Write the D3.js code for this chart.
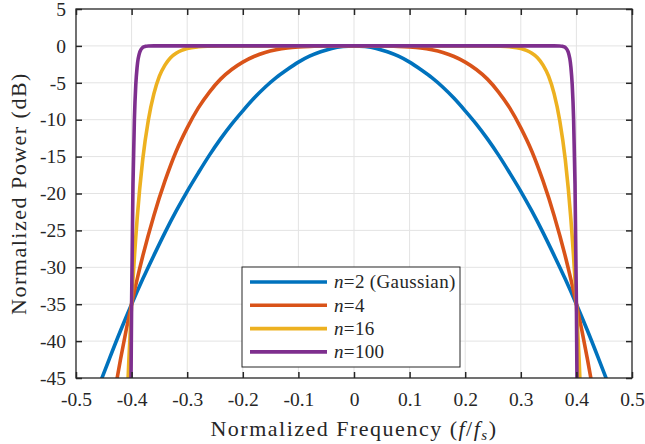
<!DOCTYPE html>
<html>
<head>
<meta charset="utf-8">
<script src="https://cdn.jsdelivr.net/npm/d3@7"></script>
<style>
  html, body { margin: 0; padding: 0; background: #ffffff; }
  text { font-family: "Liberation Serif", "Times New Roman", serif; fill: #262626; }
</style>
</head>
<body>
<div id="chart-container"></div>
<script>
const width = 645;
const height = 444;
const marginTop = 9;
const marginRight = 13;
const marginBottom = 66;
const marginLeft = 76;

// series values (normalized frequency, dB)
const freq2 = [-0.46, -0.44, -0.42, -0.40, -0.38, -0.36, -0.34, -0.32, -0.30, -0.28, -0.26, -0.24, -0.22, -0.20, -0.18, -0.16, -0.14, -0.12, -0.10, -0.08, -0.06, -0.04, -0.02, 0,
               0.02, 0.04, 0.06, 0.08, 0.10, 0.12, 0.14, 0.16, 0.18, 0.20, 0.22, 0.24, 0.26, 0.28, 0.30, 0.32, 0.34, 0.36, 0.38, 0.40, 0.42, 0.44, 0.46];
const pow2 = [-46.3, -42.4, -38.6, -35.0, -31.6, -28.4, -25.3, -22.4, -19.7, -17.2, -14.8, -12.6, -10.6, -8.8, -7.1, -5.6, -4.3, -3.2, -2.2, -1.4, -0.8, -0.35, -0.09, 0,
              -0.09, -0.35, -0.8, -1.4, -2.2, -3.2, -4.3, -5.6, -7.1, -8.8, -10.6, -12.6, -14.8, -17.2, -19.7, -22.4, -25.3, -28.4, -31.6, -35.0, -38.6, -42.4, -46.3];

const freq4 = [-0.43, -0.42, -0.41, -0.40, -0.39, -0.38, -0.36, -0.34, -0.32, -0.30, -0.28, -0.26, -0.24, -0.22, -0.20, -0.18, -0.16, -0.14, -0.12, -0.10, -0.08, -0.06, -0.04, 0,
               0.04, 0.06, 0.08, 0.10, 0.12, 0.14, 0.16, 0.18, 0.20, 0.22, 0.24, 0.26, 0.28, 0.30, 0.32, 0.34, 0.36, 0.38, 0.39, 0.40, 0.41, 0.42, 0.43];
const pow4 = [-46.7, -42.5, -38.6, -35.0, -31.6, -28.5, -23.0, -18.3, -14.3, -11.1, -8.4, -6.25, -4.5, -3.2, -2.2, -1.44, -0.9, -0.53, -0.28, -0.14, -0.06, -0.02, 0, 0,
              0, -0.02, -0.06, -0.14, -0.28, -0.53, -0.9, -1.44, -2.2, -3.2, -4.5, -6.25, -8.4, -11.1, -14.3, -18.3, -23.0, -28.5, -31.6, -35.0, -38.6, -42.5, -46.7];

const freq16 = [-0.41, -0.405, -0.40, -0.39, -0.38, -0.37, -0.36, -0.35, -0.34, -0.33, -0.32, -0.31, -0.30, -0.28, -0.26, -0.24, -0.20, 0,
                0.20, 0.24, 0.26, 0.28, 0.30, 0.31, 0.32, 0.33, 0.34, 0.35, 0.36, 0.37, 0.38, 0.39, 0.40, 0.405, 0.41];
const pow16 = [-52, -42.7, -35, -23.4, -15.4, -10.1, -6.5, -4.1, -2.6, -1.6, -1.0, -0.6, -0.35, -0.12, -0.04, -0.01, 0, 0,
               0, -0.01, -0.04, -0.12, -0.35, -0.6, -1.0, -1.6, -2.6, -4.1, -6.5, -10.1, -15.4, -23.4, -35, -42.7, -52];

const freq100 = [-0.402, -0.401, -0.40, -0.3975, -0.395, -0.3925, -0.39, -0.385, -0.38, -0.375, -0.37, -0.36, 0,
                 0.36, 0.37, 0.375, 0.38, 0.385, 0.39, 0.3925, 0.395, 0.3975, 0.40, 0.401, 0.402];
const pow100 = [-57.6, -44.9, -35, -18.7, -10.0, -5.3, -2.8, -0.77, -0.21, -0.06, -0.01, 0, 0,
                0, -0.01, -0.06, -0.21, -0.77, -2.8, -5.3, -10.0, -18.7, -35, -44.9, -57.6];

const seriesNames = ["2 (Gaussian)", "4", "16", "100"];
const seriesColors = ["#0072BD", "#D95319", "#EDB120", "#7E2F8E"];
const xTicks = [-0.5, -0.4, -0.3, -0.2, -0.1, 0, 0.1, 0.2, 0.3, 0.4, 0.5];
const yTicks = [5, 0, -5, -10, -15, -20, -25, -30, -35, -40, -45];

const series = [
    {name: seriesNames[0], color: seriesColors[0], f: freq2, p: pow2},
    {name: seriesNames[1], color: seriesColors[1], f: freq4, p: pow4},
    {name: seriesNames[2], color: seriesColors[2], f: freq16, p: pow16},
    {name: seriesNames[3], color: seriesColors[3], f: freq100, p: pow100}
];

const svg = d3.select("#chart-container")
    .append("svg")
    .attr("width", width)
    .attr("height", height)
    .style("background-color", "#ffffff");

const x = d3.scaleLinear()
    .domain([-0.5, 0.5])
    .range([marginLeft, width - marginRight]);

const y = d3.scaleLinear()
    .domain([-45, 5])
    .range([height - marginBottom, marginTop]);

const tickFmt = d => d === 0 ? "0" : d3.format(".1f")(d).replace("−", "-");

// grid
svg.append("g")
    .selectAll("line")
    .data(xTicks.slice(1, -1))
    .join("line")
    .attr("x1", d => x(d)).attr("x2", d => x(d))
    .attr("y1", marginTop).attr("y2", height - marginBottom)
    .attr("stroke", "#e3e3e3").attr("stroke-width", 1);

svg.append("g")
    .selectAll("line")
    .data(yTicks.slice(1, -1))
    .join("line")
    .attr("x1", marginLeft).attr("x2", width - marginRight)
    .attr("y1", d => y(d)).attr("y2", d => y(d))
    .attr("stroke", "#e3e3e3").attr("stroke-width", 1);

// curves
svg.append("clipPath")
    .attr("id", "plot-clip")
    .append("rect")
    .attr("x", marginLeft).attr("y", marginTop)
    .attr("width", width - marginLeft - marginRight)
    .attr("height", height - marginTop - marginBottom);

const line = d3.line()
    .x(d => x(d[0]))
    .y(d => y(d[1]))
    .curve(d3.curveMonotoneX);

svg.append("g")
    .attr("clip-path", "url(#plot-clip)")
    .selectAll("path")
    .data(series)
    .join("path")
    .attr("fill", "none")
    .attr("stroke", d => d.color)
    .attr("stroke-width", 3.6)
    .attr("stroke-linejoin", "round")
    .attr("d", d => line(d.f.map((f, i) => [f, d.p[i]])));

// axes (ticks inside, on all four sides)
const tickLen = 6;
const axisColor = "#262626";

svg.append("g")
    .attr("transform", `translate(0,${height - marginBottom})`)
    .call(d3.axisBottom(x).tickValues(xTicks).tickSize(-tickLen).tickPadding(14).tickFormat(tickFmt))
    .call(g => g.select(".domain").remove());

svg.append("g")
    .attr("transform", `translate(0,${marginTop})`)
    .call(d3.axisTop(x).tickValues(xTicks).tickSize(-tickLen).tickFormat(""))
    .call(g => g.select(".domain").remove());

svg.append("g")
    .attr("transform", `translate(${marginLeft},0)`)
    .call(d3.axisLeft(y).tickValues(yTicks).tickSize(-tickLen).tickPadding(10).tickFormat(d => String(d)))
    .call(g => g.select(".domain").remove());

svg.append("g")
    .attr("transform", `translate(${width - marginRight},0)`)
    .call(d3.axisRight(y).tickValues(yTicks).tickSize(-tickLen).tickFormat(""))
    .call(g => g.select(".domain").remove());

svg.selectAll(".tick line").attr("stroke", axisColor).attr("stroke-width", 1.5);
svg.selectAll(".tick text")
    .attr("font-family", "Liberation Serif, serif")
    .attr("font-size", "19.5px")
    .attr("fill", axisColor);

svg.append("rect")
    .attr("x", marginLeft).attr("y", marginTop)
    .attr("width", width - marginLeft - marginRight)
    .attr("height", height - marginTop - marginBottom)
    .attr("fill", "none")
    .attr("stroke", axisColor)
    .attr("stroke-width", 1.3);

// axis labels
const xLabel = svg.append("text")
    .attr("x", (marginLeft + width - marginRight) / 2)
    .attr("y", 436)
    .attr("text-anchor", "middle")
    .attr("font-size", "22px")
    .attr("letter-spacing", "1.5px");
xLabel.append("tspan").text("Normalized Frequency (");
xLabel.append("tspan").attr("font-style", "italic").text("f");
xLabel.append("tspan").text("/");
xLabel.append("tspan").attr("font-style", "italic").text("f");
xLabel.append("tspan").attr("font-style", "italic").attr("font-size", "15px").attr("dy", 4).text("s");
xLabel.append("tspan").attr("dy", -4).text(")");

svg.append("text")
    .attr("transform", `translate(26,${(marginTop + height - marginBottom) / 2}) rotate(-90)`)
    .attr("text-anchor", "middle")
    .attr("font-size", "22px")
    .attr("letter-spacing", "1.5px")
    .text("Normalized Power (dB)");

// legend
const legend = svg.append("g").attr("transform", "translate(242,267)");
legend.append("rect")
    .attr("width", 218).attr("height", 100)
    .attr("fill", "#ffffff")
    .attr("stroke", axisColor)
    .attr("stroke-width", 1);

const legendRow = legend.selectAll("g.row")
    .data(series)
    .join("g")
    .attr("class", "row")
    .attr("transform", (d, i) => `translate(0,${15 + i * 23.3})`);

legendRow.append("line")
    .attr("x1", 8).attr("x2", 85)
    .attr("stroke", d => d.color)
    .attr("stroke-width", 3.6);

const legendText = legendRow.append("text")
    .attr("x", 92)
    .attr("dy", "0.33em")
    .attr("font-size", "19px")
    .attr("letter-spacing", "0.35px");
legendText.append("tspan").attr("font-style", "italic").text("n");
legendText.append("tspan").text(d => "=" + d.name);
</script>
</body>
</html>
